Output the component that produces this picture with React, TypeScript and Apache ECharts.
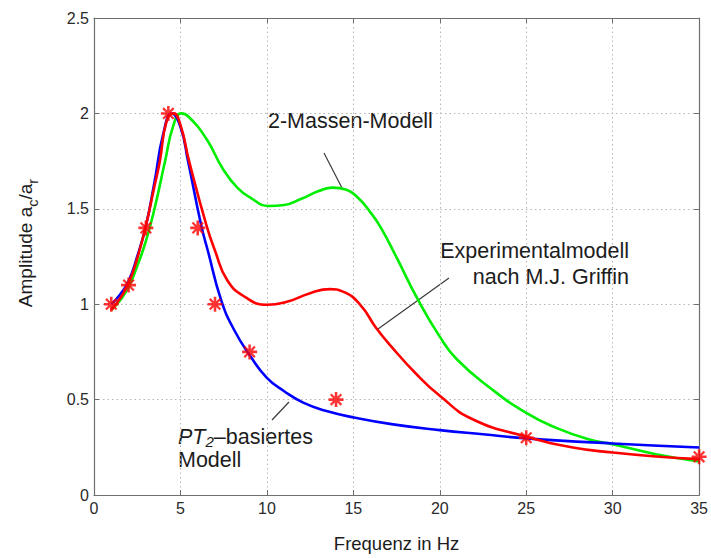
import React, { useEffect, useRef } from 'react';
import * as echarts from 'echarts';

// 2-Massen-Modell (green)
const massenX = [1, 1.5, 2, 2.5, 3, 3.5, 4.1, 4.6, 5.05, 5.5, 6.5, 7.45, 8.3, 9.1, 10.1, 11, 12, 13, 13.8, 14.6, 15.3, 16.0, 16.6, 17.5, 18.7, 20, 21, 22.9, 25, 26.7, 28.6, 30, 32.5, 35];
const massenY = [0.97, 1.02, 1.09, 1.2, 1.33, 1.5, 1.745, 1.94, 2.0, 1.98, 1.867, 1.71, 1.61, 1.555, 1.515, 1.52, 1.553, 1.593, 1.611, 1.6, 1.555, 1.48, 1.4, 1.245, 1.03, 0.83, 0.71, 0.562, 0.43, 0.353, 0.292, 0.266, 0.214, 0.176];

// PT2-basiertes Modell (blue)
const pt2X = [1, 1.5, 2, 2.5, 3, 3.5, 4, 4.5, 5, 5.45, 6.2, 6.6, 7.35, 8.1, 9.05, 10, 11, 12.1, 13.45, 15.1, 17.3, 20, 22.5, 25, 30, 35];
const pt2Y = [1.0, 1.05, 1.12, 1.25, 1.41, 1.64, 1.89, 2.0, 1.93, 1.745, 1.414, 1.275, 1.023, 0.866, 0.727, 0.614, 0.544, 0.484, 0.44, 0.405, 0.37, 0.34, 0.318, 0.297, 0.27, 0.249];

// Experimentalmodell nach M.J. Griffin (red)
const griffinX = [1, 1.5, 2, 2.5, 3, 3.5, 3.8, 4.2, 4.6, 5, 5.5, 6.5, 7.0, 7.7, 8.7, 10, 11.2, 12.5, 13.65, 14.4, 15.4, 16.3, 17.2, 18.6, 20, 21.9, 25, 27.7, 30, 32.5, 35];
const griffinY = [0.97, 1.03, 1.11, 1.24, 1.41, 1.62, 1.745, 1.96, 2.0, 1.94, 1.75, 1.414, 1.28, 1.127, 1.04, 0.997, 1.014, 1.058, 1.079, 1.066, 0.997, 0.878, 0.778, 0.638, 0.52, 0.397, 0.306, 0.249, 0.223, 0.202, 0.188];

// Measured points (red asterisks)
const starX = [1, 2, 3, 4.3, 6, 7, 9, 14, 25, 35];
const starY = [1, 1.1, 1.4, 2, 1.4, 1, 0.75, 0.5, 0.3, 0.2];

const FONT = "'Liberation Sans', Arial, sans-serif";
const ASTERISK =
  'path://M-10,-1.7L10,-1.7L10,1.7L-10,1.7Z M-1.7,-10L1.7,-10L1.7,10L-1.7,10Z M-6.01,-8.13L8.13,6.01L6.01,8.13L-8.13,-6.01Z M-8.13,6.01L6.01,-8.13L8.13,-6.01L-6.01,8.13Z';

const zip = (xs: number[], ys: number[]) => xs.map((x, i) => [x, ys[i]]);

export default function App() {
  const ref = useRef<HTMLDivElement>(null);
  useEffect(() => {
    if (!ref.current) return;
    const chart = echarts.init(ref.current, null, { renderer: 'svg' });
    const axisColor = '#6f6f6f';
    const ink = '#1c1c1c';
    const lineSeries = (data: number[][], color: string) => ({
      type: 'line',
      data,
      smooth: 0.5,
      symbol: 'none',
      lineStyle: { color, width: 2.6 },
      itemStyle: { color },
    });
    const txt = (x: number, y: number, text: string, align = 'left') => ({
      type: 'text',
      x,
      y,
      style: {
        text,
        fill: ink,
        font: `21.5px ${FONT}`,
        align,
        textAlign: align,
        verticalAlign: 'middle',
        textVerticalAlign: 'middle',
      },
    });
    const ln = (x1: number, y1: number, x2: number, y2: number) => ({
      type: 'line',
      shape: { x1, y1, x2, y2 },
      style: { stroke: '#3a3a3a', lineWidth: 1.2 },
    });
    const frameAxis = {
      type: 'value',
      axisLine: { show: true, onZero: false, lineStyle: { color: axisColor, width: 1.2 } },
      axisTick: { show: true, inside: true, length: 5, lineStyle: { color: axisColor } },
      axisLabel: { show: false },
      splitLine: { show: false },
    };
    chart.setOption({
      animation: false,
      backgroundColor: '#ffffff',
      grid: { left: 94, right: 7, top: 18, bottom: 62 },
      xAxis: [
        {
          type: 'value',
          min: 0,
          max: 35,
          interval: 5,
          position: 'bottom',
          axisLine: { show: true, lineStyle: { color: axisColor, width: 1.2 } },
          axisTick: { show: true, inside: true, length: 5, lineStyle: { color: axisColor } },
          axisLabel: { color: '#2a2a2a', fontSize: 16, fontFamily: FONT, margin: 5 },
          splitLine: { show: true, lineStyle: { color: '#b5b5b5', type: [1.5, 3], width: 1 } },
          name: 'Frequenz in Hz',
          nameLocation: 'middle',
          nameGap: 39,
          nameTextStyle: { color: ink, fontSize: 18.5, fontFamily: FONT },
        },
        { ...frameAxis, min: 0, max: 35, interval: 5, position: 'top' },
      ],
      yAxis: [
        {
          type: 'value',
          min: 0,
          max: 2.5,
          interval: 0.5,
          position: 'left',
          axisLine: { show: true, onZero: false, lineStyle: { color: axisColor, width: 1.2 } },
          axisTick: { show: true, inside: true, length: 5, lineStyle: { color: axisColor } },
          axisLabel: { color: '#2a2a2a', fontSize: 16, fontFamily: FONT, margin: 5 },
          splitLine: { show: true, lineStyle: { color: '#b5b5b5', type: [1.5, 3], width: 1 } },
        },
        { ...frameAxis, min: 0, max: 2.5, interval: 0.5, position: 'right' },
      ],
      series: [
        lineSeries(zip(massenX, massenY), '#00ee00'),
        lineSeries(zip(pt2X, pt2Y), '#0000ff'),
        lineSeries(zip(griffinX, griffinY), '#ff0000'),
        {
          type: 'scatter',
          data: zip(starX, starY),
          symbol: ASTERISK,
          symbolSize: 15,
          clip: false,
          itemStyle: { color: '#ff0000' },
          z: 5,
        },
      ],
      graphic: [
        {
          type: 'text',
          x: 25,
          y: 243,
          rotation: Math.PI / 2,
          style: {
            text: '{b|Amplitude a}{s|c}{b|/a}{s|r}',
            align: 'center',
            textAlign: 'center',
            verticalAlign: 'middle',
            textVerticalAlign: 'middle',
            fill: ink,
            rich: {
              b: { fontSize: 19, fontFamily: FONT, lineHeight: 30, fill: ink, color: ink },
              s: { fontSize: 14.5, fontFamily: FONT, lineHeight: 16, verticalAlign: 'bottom', fill: ink, color: ink },
            },
          },
        },
        txt(268, 121, '2-Massen-Modell'),
        ln(324, 153, 342, 188),
        txt(629, 251, 'Experimentalmodell', 'right'),
        txt(629, 277, 'nach M.J. Griffin', 'right'),
        ln(378, 329, 449, 278),
        {
          type: 'text',
          x: 178,
          y: 437,
          style: {
            text: '{i|PT}{si|2}{b|–basiertes}',
            align: 'left',
            textAlign: 'left',
            verticalAlign: 'middle',
            textVerticalAlign: 'middle',
            fill: ink,
            rich: {
              i: { fontSize: 21.5, fontStyle: 'italic', fontFamily: FONT, lineHeight: 23, fill: ink, color: ink },
              si: { fontSize: 15, fontStyle: 'italic', fontFamily: FONT, lineHeight: 11, verticalAlign: 'bottom', fill: ink, color: ink },
              b: { fontSize: 21.5, fontFamily: FONT, lineHeight: 23, fill: ink, color: ink },
            },
          },
        },
        txt(178, 460, 'Modell'),
        ln(272, 420, 289, 402),
      ],
    });
    return () => chart.dispose();
  }, []);
  return (
    <div
      ref={ref}
      style={{ position: 'fixed', left: 0, top: 0, width: 711, height: 558, background: '#fff' }}
    />
  );
}
